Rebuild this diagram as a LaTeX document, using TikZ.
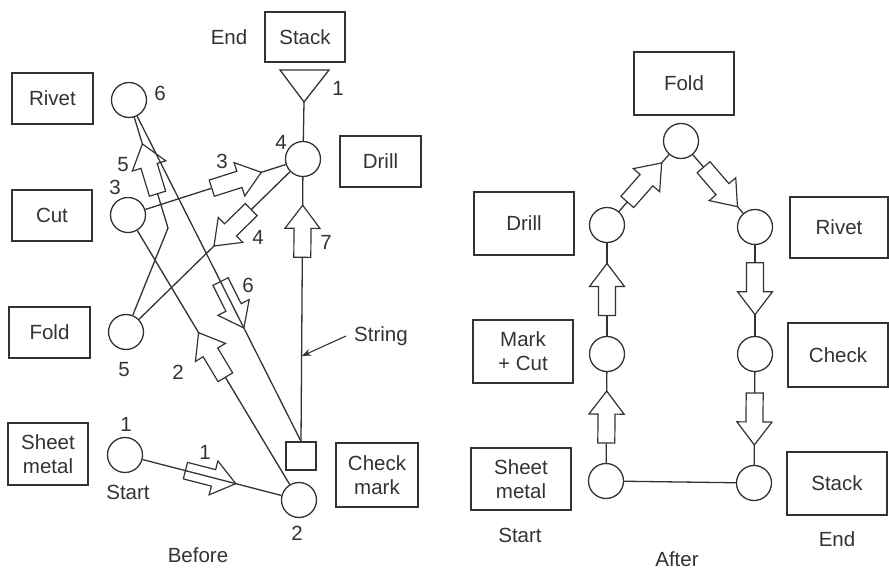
\documentclass[tikz,border=0pt]{standalone}
\usepackage{fontspec}
\setmainfont{Liberation Sans}
\usetikzlibrary{arrows.meta}
\definecolor{ink}{HTML}{333333}
\begin{document}
\begin{tikzpicture}[x=1pt,y=-1pt,
  every node/.style={text=ink, font=\fontsize{20.5}{24}\selectfont},
  box/.style={draw=ink, line width=1.1pt, align=center, inner sep=0pt},
  op/.style={circle, draw=ink, line width=1.3pt, minimum size=35pt, inner sep=0pt},
  lbl/.style={inner sep=0pt},
  link/.style={draw=ink, line width=1.3pt},
  onpath/.style={sloped, allow upside down, pos=#1},
  fat/.pic={\draw[draw=ink, line width=1.2pt, fill=white, line join=miter]
    (-26,-8.5) -- (3,-8.5) -- (3,-17.5) -- (26,0) -- (3,17.5) -- (3,8.5) -- (-26,8.5) -- cycle;}
]
\useasboundingbox[fill=white] (0,0) rectangle (889,572);

% ---------------- Before ----------------
\node[box, minimum width=81pt, minimum height=51pt] (rivetB) at (52.5,98.5) {Rivet};
\node[box, minimum width=80pt, minimum height=51pt] (cutB) at (52,215.5) {Cut};
\node[box, minimum width=81pt, minimum height=51pt] (foldB) at (49.5,332.5) {Fold};
\node[box, minimum width=80pt, minimum height=62pt] (sheetB) at (48,454) {Sheet\\metal};
\node[box, minimum width=80pt, minimum height=50pt] (stackB) at (305,37) {Stack};
\node[box, minimum width=81pt, minimum height=51pt] (drillB) at (380.5,161.5) {Drill};
\node[box, minimum width=82pt, minimum height=64pt] (checkB) at (377,475) {Check\\mark};

\node[op] (c6) at (129,100) {};
\node[op] (c3) at (128,215) {};
\node[op] (c5) at (126,332) {};
\node[op] (c1) at (125,455) {};
\node[op] (c2) at (299,500) {};
\node[op] (c4) at (303,159) {};
\node[draw=ink, line width=1.3pt, minimum width=30pt, minimum height=28pt, inner sep=0pt] (sq) at (301,456) {};

% storage triangle under the Stack box
\coordinate (tri) at (304,102);
\draw[link, line join=miter] (280,70) -- (329,70) -- (tri) -- cycle;
\draw[link] (tri) -- (c4);

\coordinate (b5) at (168,228);

% 1: sheet metal to marking
\path (c1) -- (c2) pic[onpath=0.49] {fat};
\draw[link] (c1) -- (c2);
% 2: marking to cut
\draw[link] (c2) -- (c3);
\path (c2) -- (c3) pic[onpath=0.51] {fat};
% 3: cut to drill
\draw[link] (c3) -- (c4);
\path (c3) -- (c4) pic[onpath=0.65] {fat};
% 4: drill to fold
\draw[link] (c4) -- (c5);
\path (c4) -- (c5) pic[onpath=0.38] {fat};
% 5: fold to rivet
\draw[link] (c5) -- (b5) -- (c6);
\path (b5) -- (c6) pic[onpath=0.535] {fat};
% 6: rivet to check
\path (c6) -- (sq.north) pic[onpath=0.58] {fat};
\draw[link] (c6) -- (sq.north);
% 7: check to drill
\draw[link] (sq.north) -- (c4);
\path (sq.north) -- (c4) pic[onpath=0.795] {fat};

% process labels
\node[lbl] (endB) at (229,37) {End};
\node[lbl] (n1t) at (338,88) {1};
\node[lbl] (n4) at (281,142) {4};
\node[lbl] (n6) at (160,93) {6};
\node[lbl] (n3) at (115,187) {3};
\node[lbl] (n5) at (124,370) {5};
\node[lbl] (n1) at (126,424) {1};
\node[lbl] (startB) at (128,492) {Start};
\node[lbl] (n2) at (297,533) {2};
\node[lbl] (before) at (198,555) {Before};
\node[lbl] (e1) at (205,452) {1};
\node[lbl] (e2) at (178,372) {2};
\node[lbl] (e3) at (222,161) {3};
\node[lbl] (e4) at (258,237) {4};
\node[lbl] (e5) at (123,165) {5};
\node[lbl] (e6) at (248,285) {6};
\node[lbl] (e7) at (326,242) {7};

\node[lbl] (str) at (381,336) {String};
\coordinate (strtip) at (302,356);
\draw[link, line width=1.1pt, -{Stealth[length=9pt,width=7pt]}] ([xshift=-8pt]str.west) -- (strtip);

% ---------------- After ----------------
\node[box, minimum width=100pt, minimum height=63pt] (foldA) at (684,83.5) {Fold};
\node[box, minimum width=100pt, minimum height=63pt] (drillA) at (524,223.5) {Drill};
\node[box, minimum width=98pt, minimum height=61pt] (rivetA) at (839,227.5) {Rivet};
\node[box, minimum width=100pt, minimum height=63pt] (markA) at (523,351.5) {Mark\\+ Cut};
\node[box, minimum width=100pt, minimum height=64pt] (checkA) at (838,355) {Check};
\node[box, minimum width=100pt, minimum height=62pt] (sheetA) at (521,479) {Sheet\\metal};
\node[box, minimum width=100pt, minimum height=63pt] (stackA) at (837,483.5) {Stack};

\node[op] (rf) at (681,141) {};
\node[op] (rd) at (607,225) {};
\node[op] (rr) at (755,227) {};
\node[op] (rm) at (607,354) {};
\node[op] (rc) at (755,354) {};
\node[op] (rs) at (606,481) {};
\node[op] (rk) at (754,483) {};

\draw[link] (rs) -- (rk);
\draw[link] (rs) -- (rm);
\path (rs) -- (rm) pic[onpath=0.505] {fat};
\draw[link] (rm) -- (rd);
\path (rm) -- (rd) pic[onpath=0.5] {fat};
\draw[link] (rd) -- (rf);
\path (rd) -- (rf) pic[onpath=0.51] {fat};
\draw[link] (rf) -- (rr);
\path (rf) -- (rr) pic[onpath=0.55] {fat};
\draw[link] (rr) -- (rc);
\path (rr) -- (rc) pic[onpath=0.48] {fat};
\draw[link] (rc) -- (rk);
\path (rc) -- (rk) pic[onpath=0.505] {fat};

\node[lbl] (startA) at (520,535) {Start};
\node[lbl] (endA) at (837,539) {End};
\node[lbl] (after) at (677,559) {After};
\end{tikzpicture}
\end{document}
